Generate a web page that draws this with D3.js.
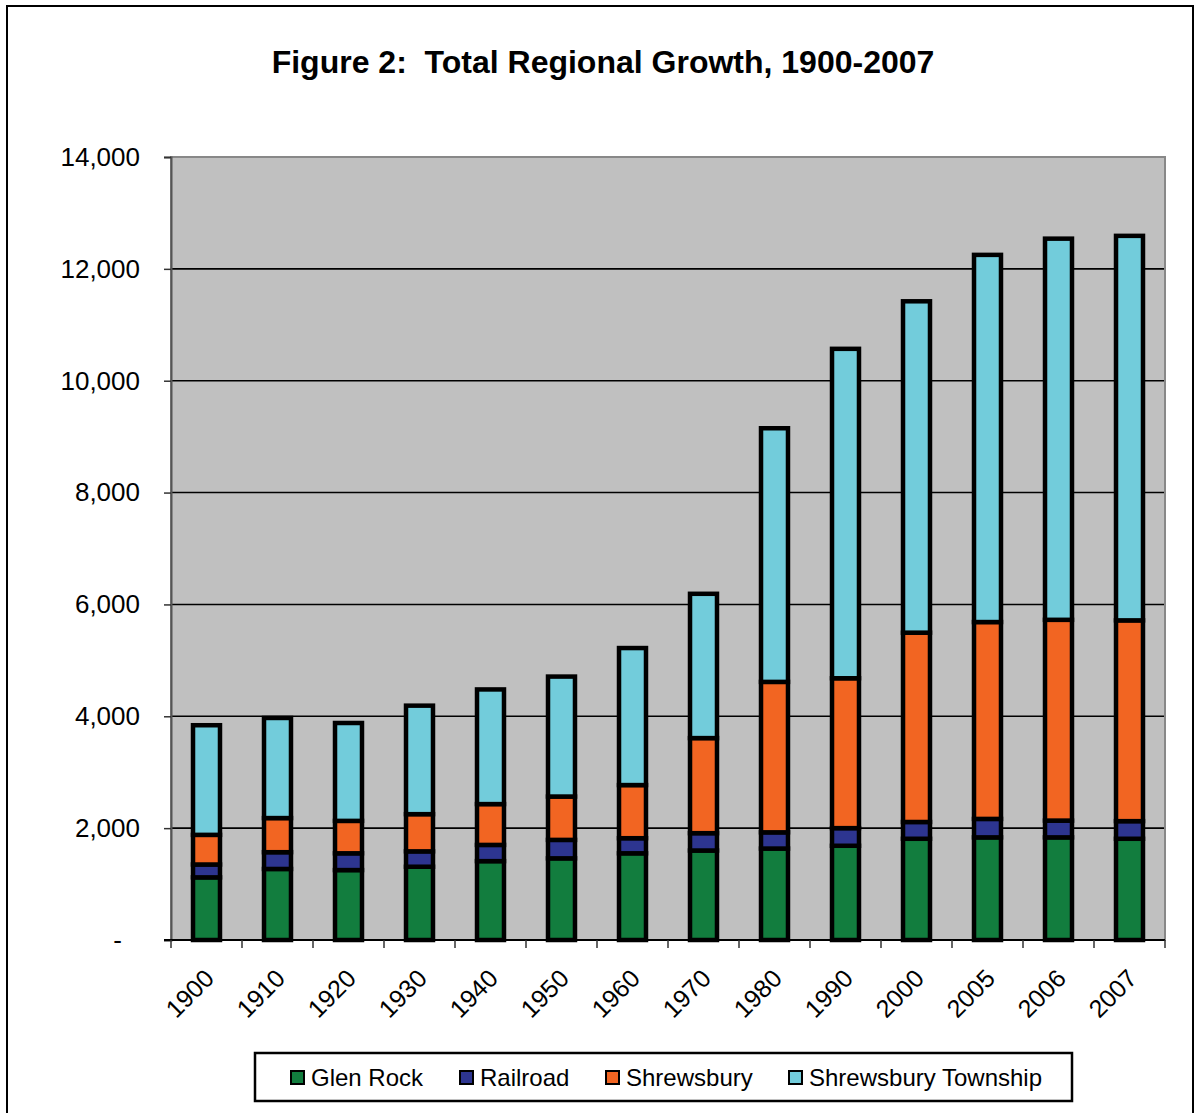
<!DOCTYPE html>
<html>
<head>
<meta charset="utf-8">
<script src="https://cdn.jsdelivr.net/npm/d3@7/dist/d3.min.js"></script>
<style>
  html, body { margin: 0; padding: 0; background: #fff; }
  svg { display: block; }
  text { font-family: Arial, "Liberation Sans", sans-serif; }
</style>
</head>
<body>
<script>
// Population by place and census year
const years = ["1900", "1910", "1920", "1930", "1940", "1950", "1960", "1970", "1980", "1990", "2000", "2005", "2006", "2007"];
const glenRock = [1120, 1270, 1250, 1310, 1410, 1460, 1550, 1600, 1635, 1685, 1810, 1835, 1835, 1810];
const railroad = [230, 300, 300, 275, 290, 330, 270, 310, 290, 315, 300, 330, 300, 315];
const shrewsbury = [530, 610, 580, 665, 730, 775, 950, 1700, 2690, 2680, 3385, 3520, 3590, 3590];
const shrewsburyTownship = [1960, 1790, 1750, 1940, 2050, 2145, 2450, 2580, 4535, 5890, 5925, 6565, 6815, 6875];

const seriesNames = ["Glen Rock", "Railroad", "Shrewsbury", "Shrewsbury Township"];
const seriesColors = ["#127D3E", "#2D3590", "#F26522", "#72CCDB"];
const yTicks = [0, 2000, 4000, 6000, 8000, 10000, 12000, 14000];
const titleText = "Figure 2:  Total Regional Growth, 1900-2007";

const W = 1196, H = 1113;
const plot = { left: 171, right: 1165, top: 157, bottom: 940 };

const svg = d3.select("body").append("svg")
  .attr("width", W).attr("height", H);

// outer chart frame
svg.append("rect")
  .attr("x", 7).attr("y", 6).attr("width", 1186).attr("height", H + 10)
  .attr("fill", "#fff").attr("stroke", "#000").attr("stroke-width", 2);

// title
svg.append("text")
  .attr("x", 603).attr("y", 73)
  .attr("text-anchor", "middle")
  .style("white-space", "pre")
  .attr("font-size", 32).attr("font-weight", "bold")
  .text(titleText);

const x = d3.scaleBand().domain(years).range([plot.left, plot.right]).padding(0);
const y = d3.scaleLinear().domain([0, 14000]).range([plot.bottom, plot.top]);
const barW = x.bandwidth() * 0.38;

// plot background
svg.append("rect")
  .attr("x", plot.left).attr("y", plot.top)
  .attr("width", plot.right - plot.left).attr("height", plot.bottom - plot.top)
  .attr("fill", "#C0C0C0");

// gridlines
svg.append("g").selectAll("line")
  .data(yTicks.filter(v => v > 0 && v < 14000))
  .join("line")
  .attr("x1", plot.left).attr("x2", plot.right)
  .attr("y1", d => y(d)).attr("y2", d => y(d))
  .attr("stroke", "#000").attr("stroke-width", 1.6);

// plot border
svg.append("rect")
  .attr("x", plot.left).attr("y", plot.top)
  .attr("width", plot.right - plot.left).attr("height", plot.bottom - plot.top)
  .attr("fill", "none").attr("stroke", "#888").attr("stroke-width", 2);

// stacked bars
const rows = years.map((yr, i) => ({
  year: yr,
  "Glen Rock": glenRock[i],
  "Railroad": railroad[i],
  "Shrewsbury": shrewsbury[i],
  "Shrewsbury Township": shrewsburyTownship[i]
}));
const stacked = d3.stack().keys(seriesNames)(rows);

svg.append("g").selectAll("g")
  .data(stacked)
  .join("g")
  .attr("fill", (d, i) => seriesColors[i])
  .selectAll("rect")
  .data(d => d)
  .join("rect")
  .attr("x", d => x(d.data.year) + (x.bandwidth() - barW) / 2)
  .attr("y", d => y(d[1]))
  .attr("width", barW)
  .attr("height", d => y(d[0]) - y(d[1]))
  .attr("stroke", "#000").attr("stroke-width", 4.5);

// y axis
const yAxis = d3.axisLeft(y)
  .tickValues(yTicks)
  .tickSize(7)
  .tickPadding(24)
  .tickFormat(d => d === 0 ? "-" : d3.format(",")(d));
const yg = svg.append("g")
  .attr("transform", `translate(${plot.left},0)`)
  .call(yAxis);
yg.select(".domain").attr("stroke", "#555").attr("stroke-width", 2);
yg.selectAll(".tick line").attr("stroke", "#333").attr("stroke-width", 1.5);
yg.selectAll(".tick text")
  .attr("font-size", 26).attr("fill", "#000")
  .attr("font-family", "Arial, 'Liberation Sans', sans-serif")
  .attr("dx", d => d === 0 ? -18 : 0);

// x axis line and category-boundary ticks
svg.append("line")
  .attr("x1", plot.left - 7).attr("x2", plot.right)
  .attr("y1", plot.bottom).attr("y2", plot.bottom)
  .attr("stroke", "#000").attr("stroke-width", 2);
const bounds = years.map(yr => x(yr)).concat([x(years[years.length - 1]) + x.bandwidth()]);
svg.append("g").selectAll("line")
  .data(bounds)
  .join("line")
  .attr("x1", d => d).attr("x2", d => d)
  .attr("y1", plot.bottom).attr("y2", plot.bottom + 8)
  .attr("stroke", "#333").attr("stroke-width", 1.5);

// rotated year labels
svg.append("g").selectAll("text")
  .data(years)
  .join("text")
  .attr("transform", d => `translate(${x(d) + x.bandwidth() / 2 + 9},980) rotate(-45)`)
  .attr("text-anchor", "end")
  .attr("font-size", 25)
  .text(d => d);

// legend
const legend = svg.append("g");
legend.append("rect")
  .attr("x", 255).attr("y", 1053).attr("width", 817).attr("height", 48)
  .attr("fill", "#fff").attr("stroke", "#000").attr("stroke-width", 2.5);
const legendX = [290, 459, 605, 788];
const items = legend.selectAll("g.item")
  .data(seriesNames)
  .join("g").attr("class", "item")
  .attr("transform", (d, i) => `translate(${legendX[i]},1070)`);
items.append("rect")
  .attr("x", 1).attr("y", 1).attr("width", 13).attr("height", 13)
  .attr("fill", (d, i) => seriesColors[i])
  .attr("stroke", "#000").attr("stroke-width", 2);
items.append("text")
  .attr("x", 21).attr("y", 16)
  .attr("font-size", 24)
  .text(d => d);
</script>
</body>
</html>
